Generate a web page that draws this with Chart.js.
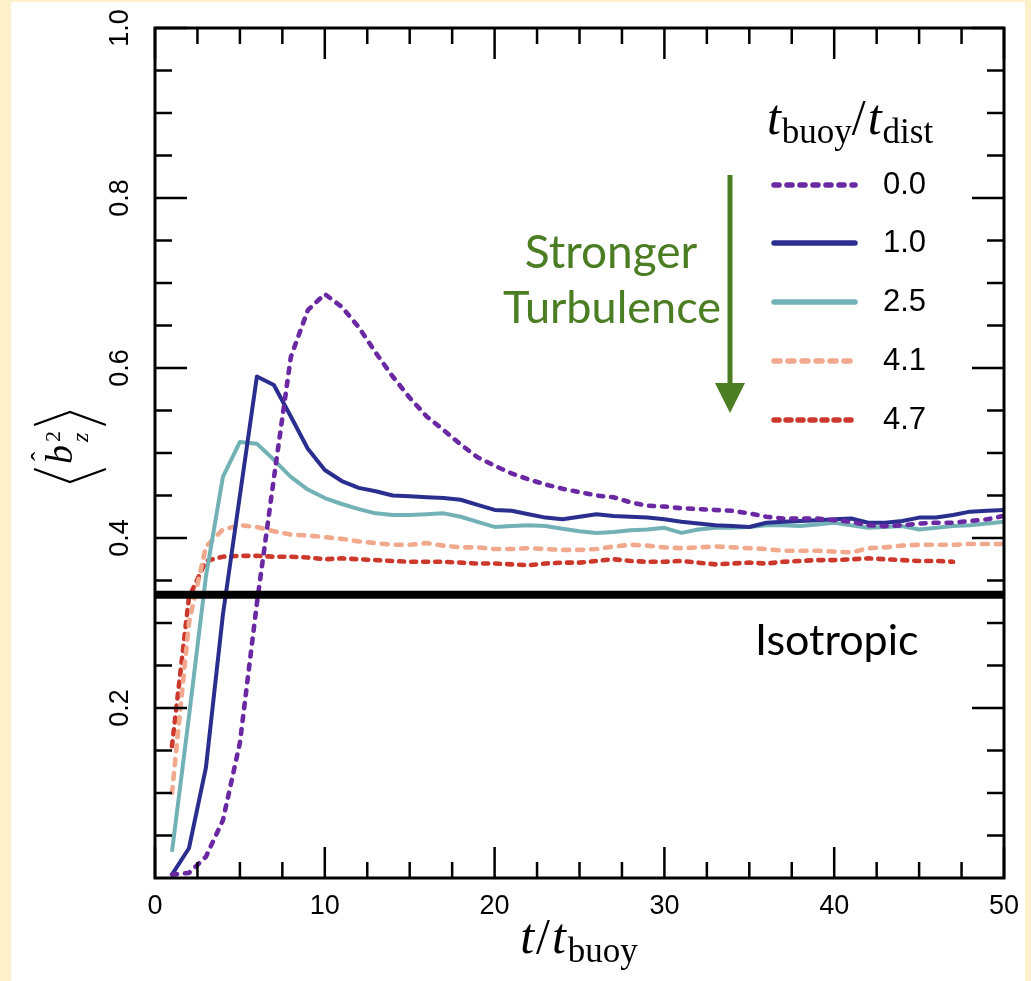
<!DOCTYPE html>
<html><head><meta charset="utf-8">
<script src="https://cdn.jsdelivr.net/npm/chart.js@4.4.0/dist/chart.umd.min.js"></script>
<style>
html,body{margin:0;padding:0;background:#fdf1c9;overflow:hidden;}
#wrap{position:absolute;left:11px;top:2px;width:1014px;height:979px;background:#ffffff;}
#c{position:absolute;left:0;top:0;}
</style></head><body>
<div id="wrap"></div>
<canvas id="c" width="1031" height="981"></canvas>
<script>
// ---- data ----
const tAll = [1,2,3,4,5,6,7,8,9,10,11,12,13,14,15,16,17,18,19,20,21,22,23,24,25,26,27,28,29,30,31,32,33,34,35,36,37,38,39,40,41,42,43,44,45,46,47,48,49,50];
const tRed = [1,2,3,4,5,6,7,8,9,10,11,12,13,14,15,16,17,18,19,20,21,22,23,24,25,26,27,28,29,30,31,32,33,34,35,36,37,38,39,40,41,42,43,44,45,46,47];
const ratio00 = [0.004,0.006,0.025,0.068,0.159,0.323,0.47,0.613,0.668,0.687,0.672,0.648,0.618,0.59,0.565,0.543,0.527,0.51,0.495,0.485,0.476,0.469,0.463,0.458,0.454,0.450,0.448,0.442,0.438,0.437,0.435,0.434,0.433,0.432,0.429,0.425,0.423,0.423,0.423,0.421,0.419,0.415,0.414,0.415,0.417,0.418,0.418,0.420,0.422,0.426];
const ratio10 = [0.004,0.035,0.13,0.31,0.45,0.59,0.58,0.543,0.505,0.48,0.467,0.459,0.455,0.450,0.449,0.448,0.447,0.445,0.439,0.433,0.432,0.428,0.424,0.422,0.425,0.428,0.426,0.425,0.424,0.422,0.419,0.417,0.415,0.414,0.413,0.418,0.419,0.420,0.421,0.422,0.423,0.418,0.418,0.420,0.424,0.424,0.427,0.431,0.432,0.433];
const ratio25 = [0.031,0.19,0.355,0.472,0.513,0.511,0.492,0.472,0.457,0.447,0.440,0.434,0.429,0.427,0.427,0.428,0.429,0.425,0.419,0.413,0.414,0.415,0.414,0.411,0.408,0.406,0.407,0.409,0.410,0.412,0.406,0.410,0.412,0.412,0.413,0.415,0.415,0.414,0.416,0.418,0.415,0.412,0.413,0.414,0.410,0.412,0.414,0.415,0.417,0.419];
const ratio41 = [0.10,0.30,0.39,0.41,0.415,0.413,0.408,0.404,0.403,0.401,0.399,0.396,0.394,0.392,0.392,0.394,0.391,0.389,0.389,0.387,0.387,0.388,0.387,0.386,0.386,0.387,0.390,0.392,0.391,0.389,0.388,0.389,0.390,0.389,0.388,0.387,0.385,0.385,0.385,0.384,0.383,0.388,0.389,0.391,0.392,0.392,0.392,0.393,0.393,0.393];
const ratio47 = [0.155,0.33,0.373,0.378,0.379,0.379,0.378,0.378,0.377,0.375,0.376,0.375,0.374,0.373,0.372,0.372,0.372,0.371,0.370,0.370,0.369,0.368,0.370,0.371,0.371,0.373,0.375,0.373,0.372,0.372,0.373,0.371,0.369,0.370,0.371,0.370,0.372,0.373,0.374,0.374,0.375,0.376,0.375,0.374,0.373,0.373,0.372];
const isotropicX = [0,50];
const isotropicY = [1/3,1/3];
const seriesLabels = ['0.0','1.0','2.5','4.1','4.7'];
const xTickValues = [0,10,20,30,40,50];
const xTickLabels = ['0','10','20','30','40','50'];
const xMinorTicks = [2.5,5,7.5,12.5,15,17.5,22.5,25,27.5,32.5,35,37.5,42.5,45,47.5];
const yTickValues = [0.2,0.4,0.6,0.8,1.0];
const yTickLabels = ['0.2','0.4','0.6','0.8','1.0'];
const yMinorTicks = [0.05,0.1,0.15,0.25,0.3,0.35,0.45,0.5,0.55,0.65,0.7,0.75,0.85,0.9,0.95];

function pts(ts, vs){ return vs.map((v,i)=>({x:ts[i], y:v})); }

const COL = {p:'#6a28a3', b:'#2a2f8f', t:'#72b1b5', s:'#f0a98c', r:'#cc392c', g:'#4b7d23'};

const datasets = [
  {label:seriesLabels[0], data:pts(tAll,ratio00), borderColor:COL.p, borderWidth:4.6, borderDash:[5,8], borderCapStyle:'round'},
  {label:seriesLabels[1], data:pts(tAll,ratio10), borderColor:COL.b, borderWidth:4},
  {label:seriesLabels[2], data:pts(tAll,ratio25), borderColor:COL.t, borderWidth:4},
  {label:seriesLabels[3], data:pts(tAll,ratio41), borderColor:COL.s, borderWidth:4.6, borderDash:[6,8], borderCapStyle:'round'},
  {label:seriesLabels[4], data:pts(tRed,ratio47), borderColor:COL.r, borderWidth:4.6, borderDash:[5,7], borderCapStyle:'round'},
  {label:'Isotropic', data:pts(isotropicX,isotropicY), borderColor:'#000', borderWidth:8, order:-1}
];
datasets.forEach(d=>{d.pointRadius=0; d.fill=false; d.tension=0; d.borderJoinStyle='round';});

function drawSegs(ctx, segs, x, y){
  let cx = x;
  segs.forEach(s=>{
    ctx.font = s.f;
    ctx.fillText(s.t, cx, y + (s.dy||0));
    cx += ctx.measureText(s.t).width + (s.sp||0);
  });
  return cx;
}
function segsWidth(ctx, segs){
  let w=0; segs.forEach(s=>{ctx.font=s.f; w+=ctx.measureText(s.t).width+(s.sp||0);}); return w;
}

const deco = {
  id:'deco',
  afterDatasetsDraw(chart){
    const ctx = chart.ctx, xs = chart.scales.x, ys = chart.scales.y, a = chart.chartArea;
    ctx.save();
    ctx.strokeStyle = '#000'; ctx.lineWidth = 3; ctx.lineCap='butt';
    ctx.strokeRect(a.left, a.top, a.right-a.left, a.bottom-a.top);
    const tick = (x1,y1,x2,y2)=>{ctx.beginPath();ctx.moveTo(x1,y1);ctx.lineTo(x2,y2);ctx.stroke();};
    ctx.lineWidth = 2.5;
    xTickValues.forEach(v=>{const px=xs.getPixelForValue(v); tick(px,a.bottom,px,a.bottom-31); tick(px,a.top,px,a.top+31);});
    xMinorTicks.forEach(v=>{const px=xs.getPixelForValue(v); tick(px,a.bottom,px,a.bottom-16); tick(px,a.top,px,a.top+16);});
    yTickValues.forEach(v=>{const py=ys.getPixelForValue(v); tick(a.left,py,a.left+32,py); tick(a.right,py,a.right-32,py);});
    yMinorTicks.forEach(v=>{const py=ys.getPixelForValue(v); tick(a.left,py,a.left+17,py); tick(a.right,py,a.right-17,py);});
    // tick labels
    ctx.fillStyle='#000';
    ctx.font = '27px "Liberation Sans", Arial, sans-serif';
    ctx.textAlign='center'; ctx.textBaseline='middle';
    xTickValues.forEach((v,i)=>{ctx.fillText(xTickLabels[i], xs.getPixelForValue(v), 907);});
    yTickValues.forEach((v,i)=>{
      ctx.save(); ctx.translate(121, ys.getPixelForValue(v)); ctx.rotate(-Math.PI/2);
      ctx.fillText(yTickLabels[i],0,0); ctx.restore();
    });
    ctx.restore();
  },
  afterDraw(chart){
    const ctx = chart.ctx;
    ctx.save();
    ctx.fillStyle='#000'; ctx.textAlign='left'; ctx.textBaseline='alphabetic';
    const ser = '"Liberation Serif", "DejaVu Serif", serif';
    // x title
    const xt = [
      {t:'t', f:'italic 50px '+ser, sp:2},
      {t:'/', f:'50px '+ser, sp:2},
      {t:'t', f:'italic 50px '+ser, sp:2},
      {t:'buoy', f:'35px '+ser, dy:9}
    ];
    const xw = segsWidth(ctx,xt);
    drawSegs(ctx, xt, 579 - xw/2, 953);
    // legend title
    const lt = [
      {t:'t', f:'italic 50px '+ser, sp:1},
      {t:'buoy', f:'35px '+ser, dy:9},
      {t:'/', f:'50px '+ser, sp:2},
      {t:'t', f:'italic 50px '+ser, sp:1},
      {t:'dist', f:'35px '+ser, dy:9}
    ];
    const lw = segsWidth(ctx,lt);
    drawSegs(ctx, lt, 850 - lw/2, 134);
    // y title (rotated)
    ctx.save();
    ctx.translate(70, 447); ctx.rotate(-Math.PI/2);
    ctx.strokeStyle='#000'; ctx.lineWidth=2.2;
    ctx.beginPath(); ctx.moveTo(-22,-36); ctx.lineTo(-35,0); ctx.lineTo(-22,36); ctx.stroke();
    ctx.beginPath(); ctx.moveTo(22,-36); ctx.lineTo(35,0); ctx.lineTo(22,36); ctx.stroke();
    ctx.font='italic 38px '+ser; ctx.fillText('b', -17, 2);
    ctx.font='28px '+ser; ctx.fillText('\u02C6', -14, -20);
    ctx.font='22px '+ser; ctx.fillText('2', 5, -10);
    ctx.font='italic 24px '+ser; ctx.fillText('z', 5, 18);
    ctx.restore();
    // legend
    const rows=[185,243,302,361,420];
    chart.data.datasets.slice(0,5).forEach((d,i)=>{
      ctx.save();
      ctx.strokeStyle=d.borderColor; ctx.lineWidth=5.5;
      ctx.lineCap = d.borderCapStyle||'round';
      ctx.setLineDash(d.borderDash||[]);
      ctx.beginPath(); ctx.moveTo(774, rows[i]); ctx.lineTo(855, rows[i]); ctx.stroke();
      ctx.restore();
      ctx.font='31px "Liberation Sans", Arial, sans-serif'; ctx.textBaseline='middle';
      ctx.fillText(d.label, 883, rows[i]);
    });
    // arrow + annotation
    ctx.strokeStyle=COL.g; ctx.fillStyle=COL.g; ctx.lineWidth=5;
    ctx.beginPath(); ctx.moveTo(730,175); ctx.lineTo(730,390); ctx.stroke();
    ctx.beginPath(); ctx.moveTo(715,383); ctx.lineTo(745,383); ctx.lineTo(730,413); ctx.closePath(); ctx.fill();
    ctx.textAlign='center'; ctx.textBaseline='alphabetic';
    ctx.font='46px Lato, "Open Sans", sans-serif';
    ctx.fillText('Stronger', 611, 268);
    ctx.font='45px Lato, "Open Sans", sans-serif';
    ctx.fillText('Turbulence', 612, 323);
    ctx.fillStyle='#000'; ctx.textAlign='left';
    ctx.font='43px Lato, "Open Sans", sans-serif';
    ctx.fillText('Isotropic', 755, 655);
    ctx.restore();
  }
};

new Chart(document.getElementById('c'), {
  type:'line',
  data:{datasets},
  options:{
    responsive:false, animation:false, devicePixelRatio:1,
    layout:{padding:{left:155, top:28, right:27, bottom:103}},
    scales:{
      x:{type:'linear', min:0, max:50, display:false},
      y:{type:'linear', min:0, max:1, display:false}
    },
    plugins:{legend:{display:false}, tooltip:{enabled:false}}
  },
  plugins:[deco]
});
</script>
</body></html>
